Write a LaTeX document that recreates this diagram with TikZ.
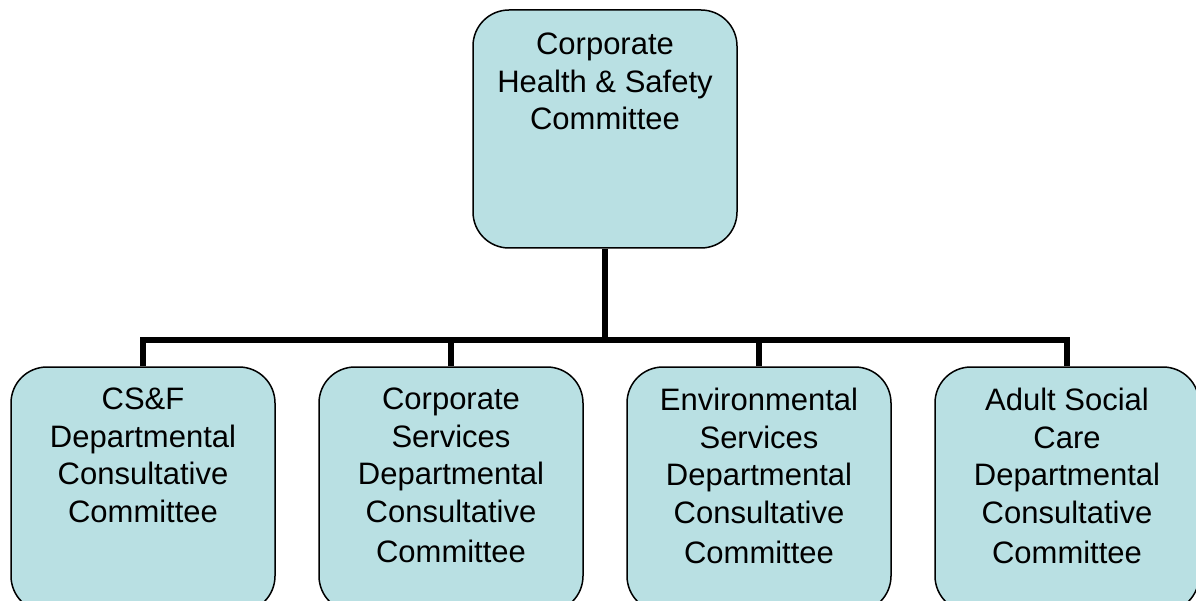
\documentclass[tikz,border=0pt]{standalone}
\usepackage{fontspec}
\setmainfont{Liberation Sans}
\usetikzlibrary{positioning}
\definecolor{boxblue}{RGB}{185,224,227}

\tikzset{
  cbox/.style={draw=black, line width=1.5pt, fill=boxblue, rounded corners=36pt,
    minimum width=264pt, minimum height=245pt, inner sep=0pt},
  ctext/.style={align=center, font=\fontsize{31}{37.5}\selectfont, inner sep=0pt, anchor=north},
  link/.style={line width=5.5pt}
}

\begin{document}
\begin{tikzpicture}[x=1pt,y=-1pt]
\useasboundingbox (0,0) rectangle (1196,601);
\clip (0,0) rectangle (1196,601);
% top committee
\node[cbox, minimum height=238pt] (chs) at (605,129) {};
\node[ctext] (chs-t) at (605,33) {Corporate\\Health \& Safety\\Committee};
% departmental committees
\node[cbox] (csf) at (143,489.5) {};
\node[cbox] (cs) at (451,489.5) {};
\node[cbox] (es) at (759,489.5) {};
\node[cbox] (asc) at (1067,489.5) {};
\node[ctext] (csf-t) at (143,388) {CS\&F\\Departmental\\Consultative\\Committee};
\node[ctext] (cs-t) at (451,388) {Corporate\\Services\\Departmental\\Consultative\\[3pt]Committee};
\node[ctext] (es-t) at (759,388) {Environmental\\Services\\Departmental\\Consultative\\[3pt]Committee};
\node[ctext] (asc-t) at (1067,388) {Adult Social\\Care\\Departmental\\Consultative\\[3pt]Committee};
% connectors
\coordinate (bar) at (605,340);
\draw[link] (chs.south) -- (bar);
\draw[link] (csf.north) |- (bar);
\draw[link] (cs.north) |- (bar);
\draw[link] (es.north) |- (bar);
\draw[link] (asc.north) |- (bar);
\end{tikzpicture}
\end{document}
